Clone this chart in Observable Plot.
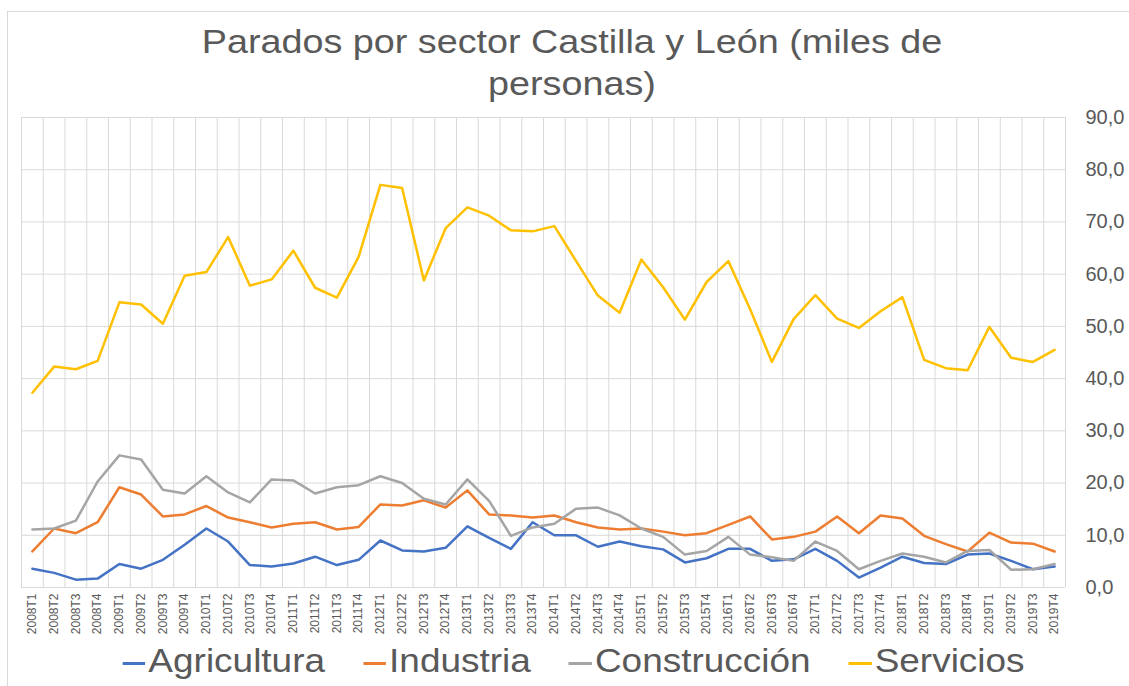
<!DOCTYPE html>
<html>
<head>
<meta charset="utf-8">
<script src="https://cdn.jsdelivr.net/npm/d3@7"></script>
<script src="https://cdn.jsdelivr.net/npm/@observablehq/plot@0.6"></script>
<style>
  html, body { margin: 0; padding: 0; background: #fff; }
  #wrap { position: relative; width: 1129px; height: 686px; overflow: hidden; font-family: "Liberation Sans", Arial, sans-serif; color: #595959; }
  #border { position: absolute; left: 7px; top: 11px; width: 1300px; height: 800px; border-top: 1px solid #d9d9d9; border-left: 1px solid #d9d9d9; }
  #title { position: absolute; left: 0; top: 19.5px; width: 1144px; text-align: center; font-size: 34px; line-height: 42px; transform: scaleX(1.11); transform-origin: 572px 0; }
  #chart { position: absolute; left: 0; top: 0; }
  #legend { position: absolute; left: 0; top: 642px; width: 1147px; display: flex; justify-content: center; align-items: center; font-size: 33px; line-height: 38px; transform: scaleX(1.12); transform-origin: 573.5px 0; white-space: nowrap; }
  .item { display: flex; align-items: center; margin: 0 17px; }
  .sw { width: 20.5px; height: 2.5px; margin-right: 2.7px; position: relative; top: 2.5px; }
</style>
</head>
<body>
<div id="wrap">
  <div id="border"></div>
  <div id="chart"></div>
  <div id="title">Parados por sector Castilla y León (miles de<br>personas)</div>
  <div id="legend"></div>
</div>
<script>
const quarters = [
  "2008T1","2008T2","2008T3","2008T4","2009T1","2009T2","2009T3","2009T4",
  "2010T1","2010T2","2010T3","2010T4","2011T1","2011T2","2011T3","2011T4",
  "2012T1","2012T2","2012T3","2012T4","2013T1","2013T2","2013T3","2013T4",
  "2014T1","2014T2","2014T3","2014T4","2015T1","2015T2","2015T3","2015T4",
  "2016T1","2016T2","2016T3","2016T4","2017T1","2017T2","2017T3","2017T4",
  "2018T1","2018T2","2018T3","2018T4","2019T1","2019T2","2019T3","2019T4"
];
const agricultura = [
  3.6, 2.8, 1.5, 1.7, 4.5, 3.6, 5.3, 8.2,
  11.3, 8.8, 4.3, 4.0, 4.6, 5.9, 4.3, 5.3,
  9.0, 7.1, 6.9, 7.6, 11.7, 9.5, 7.4, 12.5,
  10.0, 10.0, 7.8, 8.8, 7.9, 7.3, 4.8, 5.6,
  7.4, 7.4, 5.1, 5.4, 7.4, 5.1, 1.9, 3.8,
  5.9, 4.7, 4.5, 6.3, 6.5, 5.1, 3.5, 4.0
];
const industria = [
  6.9, 11.3, 10.4, 12.5, 19.2, 17.8, 13.6, 14.0,
  15.6, 13.4, 12.5, 11.5, 12.2, 12.5, 11.1, 11.6,
  15.9, 15.7, 16.7, 15.3, 18.6, 14.0, 13.8, 13.4,
  13.8, 12.5, 11.5, 11.1, 11.3, 10.7, 10.0, 10.4,
  12.0, 13.6, 9.2, 9.7, 10.7, 13.6, 10.4, 13.8,
  13.2, 9.9, 8.3, 6.9, 10.5, 8.6, 8.4, 6.9
];
const construccion = [
  11.1, 11.3, 12.8, 20.3, 25.3, 24.5, 18.7, 18.0,
  21.3, 18.2, 16.3, 20.7, 20.5, 18.0, 19.2, 19.6,
  21.3, 20.0, 17.0, 15.9, 20.7, 16.6, 9.9, 11.5,
  12.2, 15.1, 15.3, 13.8, 11.3, 9.7, 6.3, 7.0,
  9.7, 6.3, 5.8, 5.1, 8.8, 7.0, 3.5, 5.1,
  6.5, 5.9, 4.8, 7.0, 7.2, 3.4, 3.5, 4.5
];
const servicios = [
  37.3, 42.3, 41.8, 43.4, 54.6, 54.2, 50.5, 59.7,
  60.4, 67.1, 57.8, 59.0, 64.5, 57.4, 55.5, 63.3,
  77.1, 76.5, 58.8, 68.8, 72.8, 71.2, 68.4, 68.2,
  69.2, 62.5, 55.9, 52.6, 62.8, 57.5, 51.3, 58.5,
  62.5, 53.3, 43.2, 51.4, 56.0, 51.5, 49.7, 52.9,
  55.6, 43.6, 42.0, 41.6, 49.9, 44.0, 43.2, 45.5
];
const seriesNames = ["Agricultura", "Industria", "Construcción", "Servicios"];
const seriesColors = ["#4472C4", "#ED7D31", "#A5A5A5", "#FFC000"];
const seriesValues = [agricultura, industria, construccion, servicios];
const yTicks = [0, 10, 20, 30, 40, 50, 60, 70, 80, 90];

const data = seriesNames.flatMap((name, s) =>
  seriesValues[s].map((v, i) => ({ serie: name, i, q: quarters[i], v }))
);

const chart = Plot.plot({
  width: 1129,
  height: 640,
  marginLeft: 21,
  marginRight: 64,
  marginTop: 117,
  marginBottom: 53,
  style: { background: "transparent", color: "#595959", fontFamily: "'Liberation Sans', Arial, sans-serif", overflow: "visible" },
  x: { type: "linear", domain: [-0.5, quarters.length - 0.5], label: null },
  y: { domain: [0, 90], label: null },
  color: { domain: seriesNames, range: seriesColors },
  marks: [
    Plot.ruleY(yTicks, { stroke: "#d9d9d9", strokeWidth: 1 }),
    Plot.ruleX(d3.range(-0.5, quarters.length), { stroke: "#d9d9d9", strokeWidth: 1 }),
    Plot.axisY({ anchor: "right", ticks: yTicks, tickSize: 0, tickPadding: 20, tickFormat: d => d.toFixed(1).replace(".", ","), fontSize: 20, label: null }),
    Plot.axisX({ ticks: d3.range(quarters.length), tickFormat: i => quarters[i], tickRotate: -90, tickSize: 0, tickPadding: 6, fontSize: 12, label: null }),
    Plot.line(data, { x: "i", y: "v", z: "serie", stroke: "serie", strokeWidth: 2.5 })
  ]
});
document.getElementById("chart").appendChild(chart);

const legend = document.getElementById("legend");
seriesNames.forEach((name, s) => {
  const item = document.createElement("div");
  item.className = "item";
  const sw = document.createElement("span");
  sw.className = "sw";
  sw.style.background = seriesColors[s];
  const label = document.createElement("span");
  label.textContent = name;
  item.appendChild(sw);
  item.appendChild(label);
  legend.appendChild(item);
});
</script>
</body>
</html>
